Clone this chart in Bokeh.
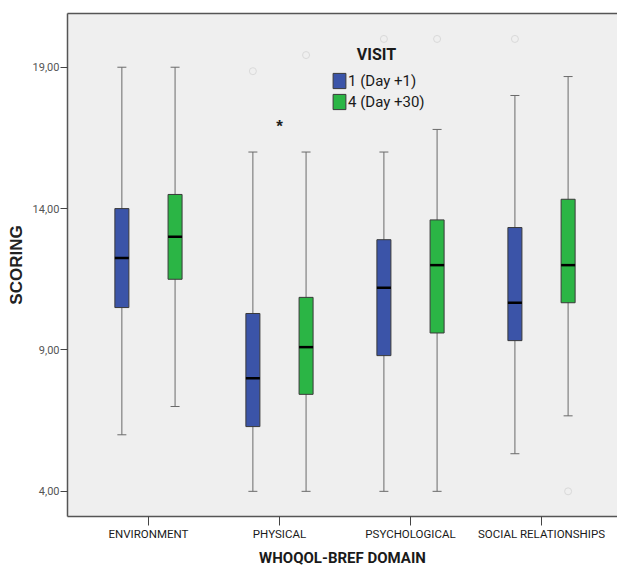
from bokeh.plotting import figure
from bokeh.models import ColumnDataSource, FixedTicker, Legend, LegendItem, Label, Range1d, LinearAxis
from bokeh.embed import file_html
from bokeh.resources import INLINE
from bokeh.core.properties import value

# ---- data ----
domains = ["ENVIRONMENT", "PHYSICAL", "PSYCHOLOGICAL", "SOCIAL RELATIONSHIPS"]
visits = ["1 (Day +1)", "4 (Day +30)"]

v1_low = [6.0, 4.0, 4.0, 5.33]
v1_q1 = [10.5, 6.29, 8.8, 9.33]
v1_med = [12.25, 8.0, 11.2, 10.67]
v1_q3 = [14.0, 10.29, 12.9, 13.33]
v1_high = [19.0, 16.0, 16.0, 18.0]

v4_low = [7.0, 4.0, 4.0, 6.67]
v4_q1 = [11.5, 7.43, 9.6, 10.67]
v4_med = [13.0, 9.1, 12.0, 12.0]
v4_q3 = [14.5, 10.86, 13.6, 14.33]
v4_high = [19.0, 16.0, 16.8, 18.67]

outlier_domain = ["PHYSICAL", "PHYSICAL", "PSYCHOLOGICAL", "PSYCHOLOGICAL", "SOCIAL RELATIONSHIPS", "SOCIAL RELATIONSHIPS"]
outlier_visit = [0, 1, 0, 1, 0, 1]
outlier_value = [18.86, 19.43, 20.0, 20.0, 20.0, 4.0]

sig_domain = ["PHYSICAL"]
sig_value = [16.9]

y_ticks = [4, 9, 14, 19]
y_tick_labels = ["4,00", "9,00", "14,00", "19,00"]

colors = ["#3b54a8", "#2bb545"]

# ---- layout ----
OFFSET = 0.203
BOX_W = 0.107
NARROW = "Roboto"
FRAME = "#555555"

p = figure(width=617, height=569, output_backend="svg", toolbar_location=None,
           x_range=Range1d(0.382, 4.58), y_range=Range1d(3.11, 20.90),
           min_border_left=67, min_border_right=0, min_border_top=13, min_border_bottom=53)
p.background_fill_color = "#efefef"
p.border_fill_color = "white"
p.outline_line_color = None
p.grid.visible = False

renderers = []
for k, (lo, q1, md, q3, hi) in enumerate([(v1_low, v1_q1, v1_med, v1_q3, v1_high),
                                          (v4_low, v4_q1, v4_med, v4_q3, v4_high)]):
    off = -OFFSET if k == 0 else OFFSET
    xs = [i + 1 + off for i in range(len(domains))]
    src = ColumnDataSource(dict(x=xs, x0=[x - BOX_W / 2 for x in xs], x1=[x + BOX_W / 2 for x in xs],
                                lo=lo, q1=q1, md=md, q3=q3, hi=hi))
    p.segment(x0="x", y0="lo", x1="x", y1="hi", source=src, line_color="#6a6a6a", line_width=1)
    p.scatter(x="x", y="lo", source=src, marker="dash", size=9, line_color="#6a6a6a", line_width=1)
    p.scatter(x="x", y="hi", source=src, marker="dash", size=9, line_color="#6a6a6a", line_width=1)
    r = p.vbar(x="x", width=BOX_W, bottom="q1", top="q3", source=src,
               fill_color=colors[k], line_color="#3a3a3a", line_width=1)
    renderers.append(r)
    p.segment(x0="x0", y0="md", x1="x1", y1="md", source=src, line_color="black", line_width=2.5)

ox = [domains.index(d) + 1 + (-OFFSET if v == 0 else OFFSET) for d, v in zip(outlier_domain, outlier_visit)]
p.scatter(x=ox, y=outlier_value, marker="circle", size=7, fill_color=None,
          line_color="#d9d9d9", line_width=1)

p.text(x=[domains.index(d) + 1 for d in sig_domain], y=sig_value, text=["*"],
       text_align="center", text_baseline="middle", text_font=value("Liberation Sans"),
       text_font_size="17px", text_font_style="bold", text_color="#222222")

# axes
yax = p.yaxis[0]
yax.ticker = FixedTicker(ticks=y_ticks)
yax.major_label_overrides = {t: l for t, l in zip(y_ticks, y_tick_labels)}
yax.minor_tick_line_color = None
yax.major_tick_in = 0
yax.major_tick_out = 7
yax.major_tick_line_color = "#444444"
yax.axis_line_color = FRAME
yax.axis_line_width = 1.5
yax.major_label_text_font = NARROW
yax.major_label_text_font_size = "11px"
yax.major_label_text_color = "#555555"
yax.major_label_standoff = 1
yax.axis_label = "SCORING"
yax.axis_label_text_font = "Liberation Sans"
yax.axis_label_text_font_style = "bold"
yax.axis_label_text_font_size = "17px"
yax.axis_label_text_color = "#222222"
yax.axis_label_standoff = 4

xax = p.xaxis[0]
xax.ticker = FixedTicker(ticks=[i + 1 for i in range(len(domains))])
xax.major_label_overrides = {i + 1: d for i, d in enumerate(domains)}
xax.minor_tick_line_color = None
xax.major_tick_in = 0
xax.major_tick_out = 9
xax.major_tick_line_color = "#444444"
xax.axis_line_color = FRAME
xax.axis_line_width = 1.5
xax.major_label_text_font = NARROW
xax.major_label_text_font_size = "11.5px"
xax.major_label_text_color = "#1a1a1a"
xax.major_label_text_line_height = 1.0
xax.major_label_standoff = 1
xax.axis_label = "WHOQOL-BREF DOMAIN"
xax.axis_label_text_font = NARROW
xax.axis_label_text_font_style = "bold"
xax.axis_label_text_font_size = "15px"
xax.axis_label_text_color = "#1a1a1a"
xax.axis_label_text_line_height = 1.0
xax.axis_label_standoff = 5

# top border of the frame (no right border: the original is cropped there)
top_axis = LinearAxis(axis_line_color=FRAME, axis_line_width=1.5, major_tick_line_color=None,
                      minor_tick_line_color=None, major_tick_out=0, major_tick_in=0,
                      major_label_standoff=0, major_label_text_font_size="0px",
                      major_label_text_alpha=0)
p.add_layout(top_axis, "above")

legend = Legend(items=[LegendItem(label=visits[i], renderers=[renderers[i]]) for i in range(2)],
                location=(264, 405), orientation="vertical",
                background_fill_alpha=0, border_line_alpha=0,
                margin=0, padding=0, spacing=2,
                glyph_width=16, glyph_height=19, label_height=19, label_standoff=1,
                label_text_font=NARROW, label_text_font_size="15px", label_text_color="#1a1a1a")
p.add_layout(legend)

p.add_layout(Label(x=309, y=462, x_units="screen", y_units="screen", text="VISIT",
                   text_align="center", text_baseline="middle", text_font=NARROW,
                   text_font_style="bold", text_font_size="16px", text_color="#1a1a1a"))

open("out.html", "w").write(file_html(p, INLINE))
